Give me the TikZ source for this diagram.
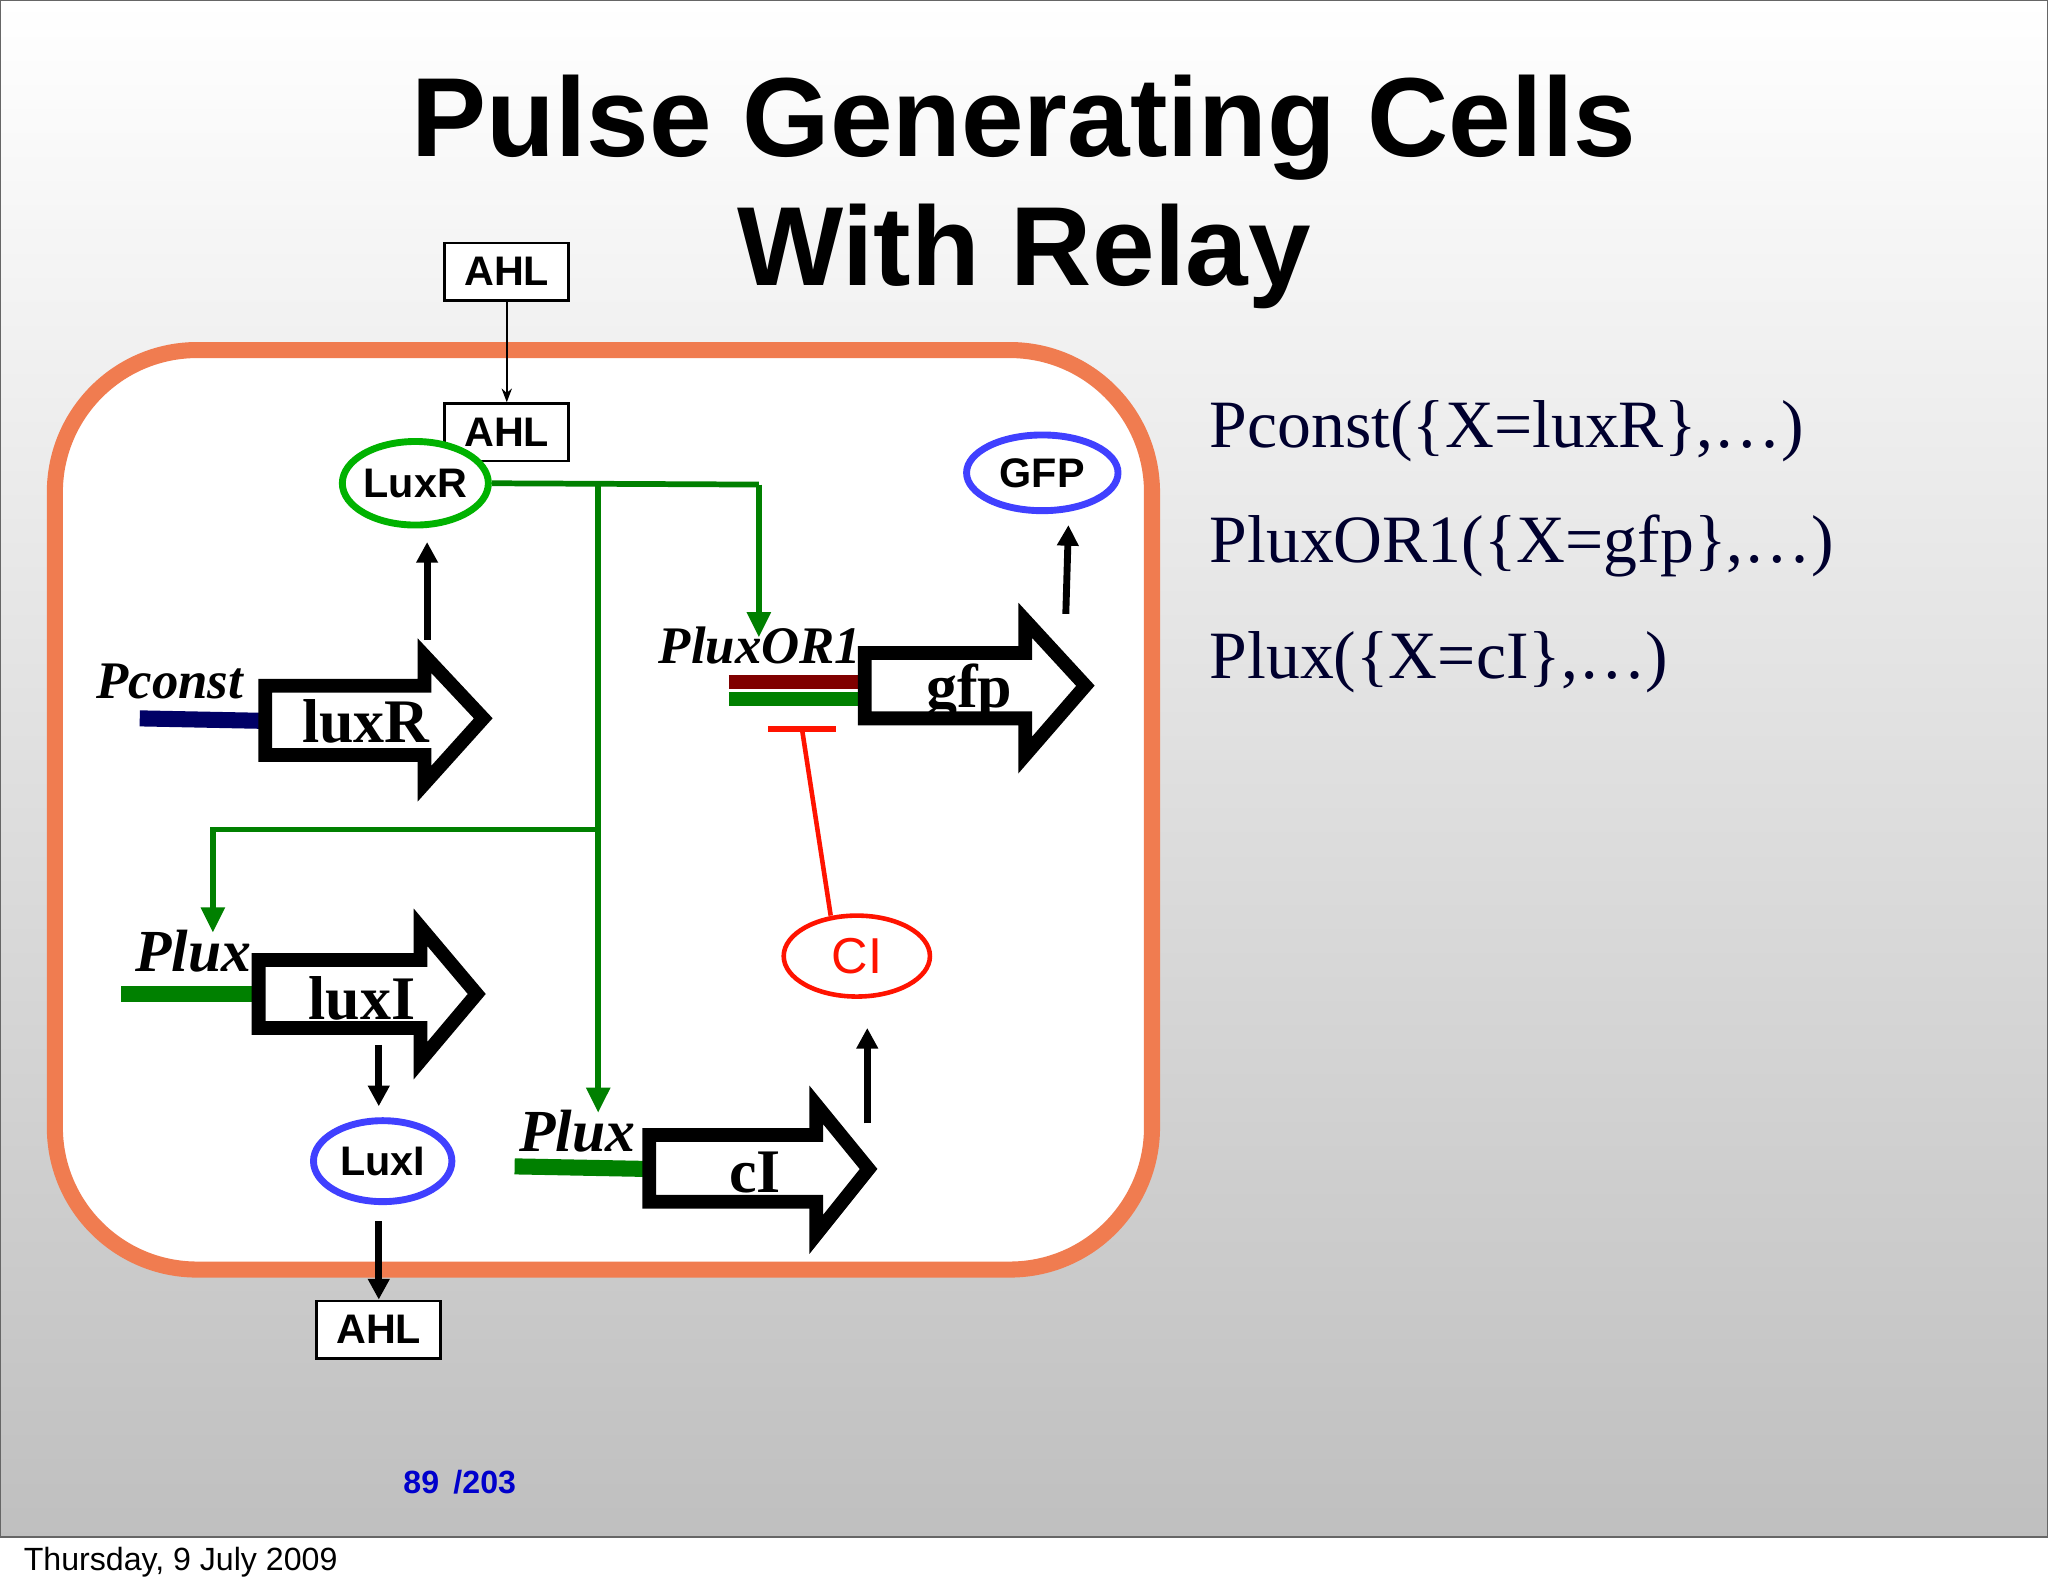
\documentclass[tikz,border=0pt]{standalone}
\usepackage{fontspec}
\setmainfont{Liberation Serif}
\newfontfamily\hv{Liberation Sans}
\usetikzlibrary{arrows.meta,shapes.geometric}
\definecolor{cellc}{HTML}{F07C50}
\begin{document}
\begin{tikzpicture}[x=0.02cm,y=-0.02cm,
  box/.style={draw,line width=1.2pt,fill=white,font=\hv\bfseries\fontsize{18}{18}\selectfont,minimum width=54pt,minimum height=25pt,inner sep=0pt},
  ell/.style={ellipse,draw,line width=3pt,fill=white,font=\hv\bfseries\fontsize{18}{18}\selectfont,inner sep=0pt},
  gl/.style={draw=green!50!black,line width=2.5pt},
  garr/.style={gl,-{Triangle[length=11pt,width=10pt]}},
  barr/.style={line width=3pt,-{Triangle[length=9pt,width=9pt]}},
  gene/.style={line width=6pt,fill=white,line join=miter},
  glab/.style={font=\bfseries\fontsize{27}{27}\selectfont},
  plab/.style={font=\bfseries\itshape\fontsize{23}{23}\selectfont},
  rt/.style={font=\fontsize{29.5}{30}\selectfont,text=black!70!blue!60!black,anchor=west}]
\useasboundingbox (0,0) rectangle (1568,1220);
\shade[top color=white,bottom color=black!25,draw=black!60,line width=0.8pt] (0,0) rectangle (1568,1177);
\node[anchor=west,font=\hv\fontsize{14}{14}\selectfont] (date) at (12,1196) {Thursday, 9 July 2009};
\node[font=\hv\bfseries\fontsize{49}{49}\selectfont] (t1) at (784,98) {Pulse Generating Cells};
\node[font=\hv\bfseries\fontsize{49}{49}\selectfont] (t2) at (784,196) {With Relay};
\draw[draw=cellc,line width=7pt,fill=white,rounded corners=62pt] (42,268) rectangle (882,972);
\node[font=\hv\bfseries\fontsize{14}{14}\selectfont,text=blue!80!black] (pg) at (352,1135) {89 \,/203};
% right text
\node[rt] (r1) at (920,330) {Pconst(\{X=luxR\},\dots)};
\node[rt] (r2) at (920,418) {PluxOR1(\{X=gfp\},\dots)};
\node[rt] (r3) at (920,507) {Plux(\{X=cI\},\dots)};
% AHL
\node[box] (ahl1) at (388,208) {AHL};
\node[box] (ahl2) at (388,331) {AHL};
\draw[line width=0.8pt,-{Stealth[length=6pt]}] (ahl1) -- (ahl2);
\node[ell,draw=green!70!black,minimum width=104*0.569pt,minimum height=64*0.569pt] (luxR) at (318,370) {LuxR};
% green network
\coordinate (j1) at (458,371);
\coordinate (j2) at (581,371);
\coordinate (j3) at (458,635);
\coordinate (j4) at (163,635);
\coordinate (e1) at (581,488);
\coordinate (e2) at (458,852);
\coordinate (e3) at (163,714);
\draw[gl] (luxR.east) -- (j2);
\draw[garr] (j2) -- (e1);
\draw[garr] (j1) -- (e2);
\draw[garr] (j3) -- (j4) -- (e3);
% Pconst luxR
\node[plab] (pc) at (130,522) {Pconst};
\draw[line width=7pt,blue!40!black] (107,550) -- (207,552);
\draw[gene] (203,525) -- (325,525) -- (325,502) -- (370,550) -- (325,600) -- (325,578) -- (203,578) -- cycle;
\node[glab] (luxRg) at (280,552) {luxR};
\coordinate (a1s) at (327,490); \coordinate (a1e) at (327,415);
\draw[barr] (a1s) -- (a1e);
% GFP
\node[ell,draw=blue!75!white,minimum width=116*0.569pt,minimum height=58*0.569pt] (gfpp) at (798,362) {GFP};
\coordinate (a2s) at (816,470); \coordinate (a2e) at (818,402);
\draw[barr] (a2s) -- (a2e);
\node[plab] (por) at (582,494) {PluxOR1};
\draw[line width=6pt,red!50!black] (558,522) -- (660,522);
\draw[line width=6pt,green!50!black] (558,535) -- (660,535);
\draw[gene] (662,500) -- (785,500) -- (785,475) -- (831,525) -- (785,578) -- (785,550) -- (662,550) -- cycle;
\node[glab] (gfpg) at (742,530) {gfp};
% CI
\node[ell,line width=2pt,draw=red!85!orange,text=red!85!orange,font=\hv\fontsize{22}{22}\selectfont,minimum width=112*0.569pt,minimum height=62*0.569pt] (ci) at (656,732) {CI};
\coordinate (bar) at (614,558);
\coordinate (cis) at (636,701);
\draw[line width=2pt,red!85!orange] (cis) -- (bar);
\draw[line width=2.5pt,red!85!orange] (588,558) -- (640,558);
\coordinate (a3s) at (664,860); \coordinate (a3e) at (664,787);
\draw[barr] (a3s) -- (a3e);
% Plux luxI
\node[plab,font=\bfseries\itshape\fontsize{26}{26}\selectfont] (px1) at (148,728) {Plux};
\draw[line width=7pt,green!50!black] (93,761) -- (198,761);
\draw[gene] (198,735) -- (322,735) -- (322,710) -- (365,761) -- (322,812) -- (322,787) -- (198,787) -- cycle;
\node[glab] (luxIg) at (277,764) {luxI};
\node[ell,draw=blue!75!white,minimum width=106*0.569pt,minimum height=62*0.569pt] (luxI) at (293,889) {LuxI};
\coordinate (a4s) at (290,800); \coordinate (a4e) at (290,847);
\draw[barr] (a4s) -- (a4e);
\node[box] (ahl3) at (290,1018) {AHL};
\coordinate (a5s) at (290,935);
\draw[barr] (a5s) -- (ahl3.north);
% Plux cI
\node[plab,font=\bfseries\itshape\fontsize{26}{26}\selectfont] (px2) at (442,866) {Plux};
\draw[line width=7pt,green!50!black] (394,893) -- (497,895);
\draw[gene] (497,869) -- (625,869) -- (625,846) -- (665,895) -- (625,945) -- (625,920) -- (497,920) -- cycle;
\node[glab] (cIg) at (578,898) {cI};
\end{tikzpicture}
\end{document}
